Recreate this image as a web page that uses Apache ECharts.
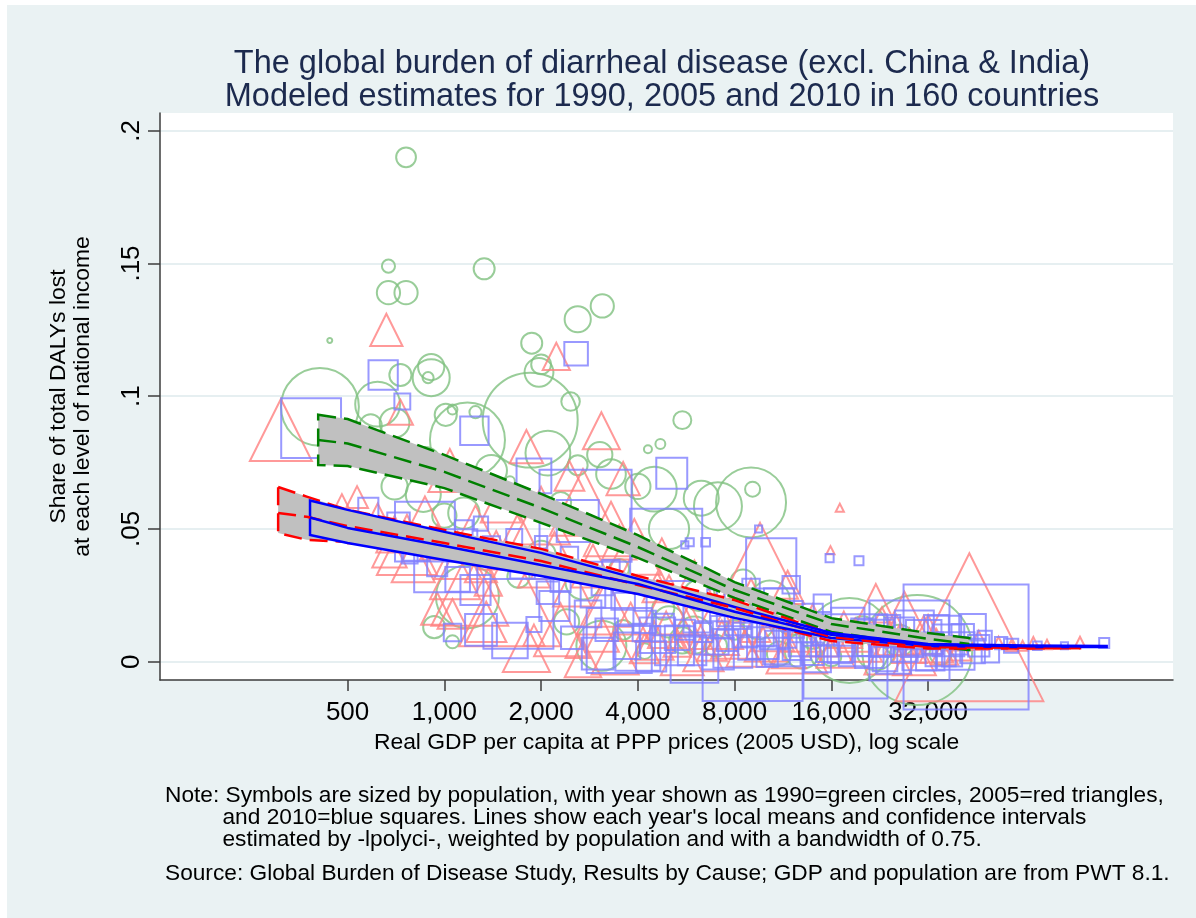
<!DOCTYPE html>
<html>
<head>
<meta charset="utf-8">
<script src="https://cdn.jsdelivr.net/npm/echarts@6/dist/echarts.min.js"></script>
<style>
  html, body { margin: 0; padding: 0; background: #ffffff; }
  #chart { width: 1196px; height: 918px; }
</style>
</head>
<body>
<div id="chart"></div>
<script>
// Axis ticks
const gdpTicks = [500, 1000, 2000, 4000, 8000, 16000, 32000];
const shareTicks = [0, 0.05, 0.1, 0.15, 0.2];

// Countries: [GDP per capita (2005 USD, PPP), share of DALYs lost, population (millions)]
const circles1990 = [
  [760, 0.190, 8], [670, 0.149, 3.5], [1330, 0.148, 9], [670, 0.139, 11], [760, 0.139, 11],
  [2600, 0.129, 14], [3100, 0.134, 11], [1870, 0.120, 9], [440, 0.121, 0.5], [2000, 0.112, 8],
  [1970, 0.109, 17], [910, 0.111, 14], [910, 0.107, 28], [890, 0.107, 2.5], [730, 0.108, 10],
  [2470, 0.098, 7], [410, 0.096, 124], [620, 0.097, 41], [700, 0.090, 18], [590, 0.089, 10],
  [1010, 0.093, 10], [1060, 0.095, 2], [1250, 0.094, 3], [1850, 0.091, 184], [1180, 0.0835, 115],
  [870, 0.075, 20], [2100, 0.0786, 41], [2600, 0.074, 8], [3045, 0.078, 13], [4300, 0.080, 1.3],
  [4700, 0.082, 2], [5500, 0.091, 6.6], [4500, 0.065, 41], [7100, 0.0586, 47], [9000, 0.060, 100],
  [9100, 0.065, 4.6], [6300, 0.0616, 25], [3300, 0.0707, 18], [4000, 0.066, 13], [1400, 0.072, 20],
  [1600, 0.068, 2], [860, 0.063, 25], [1150, 0.056, 20], [1180, 0.0245, 81], [1060, 0.0075, 3.5],
  [930, 0.013, 10], [2400, 0.015, 13], [3080, 0.006, 51], [3600, 0.012, 8], [5500, 0.008, 14],
  [2700, 0.030, 25], [5000, 0.050, 33], [6200, 0.025, 20], [10300, 0.023, 33], [8500, 0.030, 13],
  [12000, 0.016, 20], [18200, 0.008, 147], [29600, 0.0044, 247], [14000, 0.010, 15], [22000, 0.004, 30],
  [26000, 0.008, 20], [35000, 0.003, 10], [8000, 0.012, 8], [7000, 0.006, 10], [4200, 0.004, 5],
  [11000, 0.003, 12], [16000, 0.002, 8], [700, 0.066, 14], [1000, 0.055, 12], [2000, 0.040, 18],
  [1700, 0.032, 10], [3500, 0.035, 8], [2300, 0.060, 9], [5000, 0.015, 20], [6000, 0.010, 28],
  [9500, 0.014, 18], [13000, 0.004, 25], [20000, 0.012, 15], [4800, 0.020, 10]
];

const triangles2005 = [
  [660, 0.125, 14], [2230, 0.115, 10], [730, 0.094, 8.5], [3080, 0.087, 18.5], [310, 0.0873, 52],
  [1800, 0.081, 15], [17000, 0.058, 0.9], [15900, 0.042, 0.9], [43000, 0.013, 296], [95000, 0.0075, 1.35],
  [53000, 0.0075, 1.35], [63000, 0.006, 1.3], [75000, 0.0065, 1.2], [38000, 0.007, 3], [9600, 0.038, 78],
  [27000, 0.016, 41], [535, 0.062, 6.5], [675, 0.042, 16], [765, 0.044, 49], [1040, 0.072, 25],
  [1080, 0.033, 34], [1060, 0.018, 12], [1370, 0.030, 10], [2450, 0.070, 12], [3600, 0.069, 15],
  [2300, 0.012, 38], [4750, 0.044, 2.3], [11700, 0.028, 15], [480, 0.058, 10], [870, 0.055, 20],
  [1250, 0.050, 30], [1500, 0.060, 22], [2000, 0.055, 45], [2700, 0.060, 60], [3300, 0.050, 40],
  [3900, 0.032, 180], [1600, 0.025, 140], [1200, 0.028, 80], [5000, 0.020, 60], [6000, 0.030, 25],
  [7000, 0.015, 40], [8000, 0.010, 30], [9000, 0.024, 20], [10500, 0.012, 25], [12500, 0.007, 50],
  [14000, 0.016, 12], [16500, 0.005, 20], [19000, 0.010, 15], [22000, 0.022, 20], [24000, 0.004, 30],
  [26000, 0.008, 12], [29000, 0.003, 25], [31000, 0.010, 20], [34000, 0.006, 15], [36000, 0.004, 10],
  [4500, 0.008, 20], [3400, 0.004, 30], [5500, 0.003, 25], [6800, 0.006, 12], [2600, 0.006, 8],
  [1900, 0.010, 6],
  [3100, 0.010, 15], [3800, 0.015, 20], [4200, 0.005, 12], [4900, 0.012, 18], [5300, 0.007, 10],
  [5800, 0.016, 14], [6400, 0.004, 22], [7300, 0.009, 16], [7800, 0.020, 10], [8600, 0.005, 18],
  [9300, 0.013, 12], [10000, 0.008, 24], [11000, 0.018, 10], [11800, 0.004, 16], [13000, 0.011, 20],
  [15000, 0.008, 14], [17500, 0.012, 18], [20500, 0.006, 14], [23000, 0.014, 16], [25500, 0.010, 22],
  [28000, 0.006, 16], [32000, 0.012, 12], [40000, 0.005, 8], [46000, 0.008, 5], [58000, 0.006, 1.5],
  [68000, 0.007, 2],
  [560, 0.050, 12], [620, 0.055, 8], [700, 0.048, 18], [800, 0.038, 25], [950, 0.045, 16],
  [1100, 0.040, 30], [1300, 0.036, 14], [1450, 0.042, 20], [1700, 0.048, 25], [1900, 0.034, 14],
  [2200, 0.040, 30], [2500, 0.028, 20], [2900, 0.036, 25], [3200, 0.022, 30], [3500, 0.045, 16],
  [4100, 0.040, 20], [4600, 0.028, 12], [950, 0.020, 14], [1350, 0.015, 22], [1800, 0.005, 30],
  [2700, 0.001, 18]
];

const squares2010 = [
  [645, 0.108, 17], [740, 0.098, 5], [2570, 0.116, 11], [385, 0.088, 71], [1240, 0.087, 16],
  [580, 0.058, 8], [1900, 0.070, 24], [2750, 0.055, 168], [870, 0.049, 71], [1010, 0.038, 79],
  [1700, 0.018, 97], [3500, 0.008, 84], [1060, 0.011, 6], [1900, 0.014, 4.5], [2600, 0.053, 35],
  [5600, 0.044, 1], [2200, 0.021, 18], [5100, 0.071, 19], [4900, 0.044, 103], [10400, 0.037, 50],
  [15000, 0.022, 6], [19500, 0.038, 1.6], [9500, 0.050, 1], [5800, 0.045, 1.3], [6500, 0.045, 1.5],
  [42000, 0.0055, 310], [28000, 0.008, 127], [113000, 0.007, 2], [58000, 0.006, 4], [17700, 0.002, 140],
  [9100, 0.004, 198], [15800, 0.039, 1.3], [13000, 0.012, 12], [780, 0.040, 5], [900, 0.045, 3],
  [1150, 0.050, 6], [1300, 0.052, 4], [1500, 0.040, 9], [1650, 0.047, 5], [2000, 0.045, 3],
  [2300, 0.030, 8], [2900, 0.025, 12], [3300, 0.035, 6], [3800, 0.020, 20], [4200, 0.015, 10],
  [4600, 0.010, 25], [5200, 0.006, 30], [5600, 0.012, 8], [6100, 0.016, 14], [6800, 0.009, 22],
  [7300, 0.013, 10], [7900, 0.005, 30], [8600, 0.010, 12], [9800, 0.007, 20], [10800, 0.004, 14],
  [11600, 0.009, 8], [12500, 0.006, 16], [14000, 0.003, 10], [15500, 0.006, 9], [17000, 0.004, 12],
  [19000, 0.008, 20], [21000, 0.003, 16], [23000, 0.006, 10], [25000, 0.002, 24], [27000, 0.005, 14],
  [30000, 0.003, 22], [33000, 0.007, 9], [35000, 0.004, 18], [38000, 0.002, 8], [40000, 0.006, 6],
  [44000, 0.004, 12], [48000, 0.009, 4], [4000, 0.005, 40], [3000, 0.003, 20], [2500, 0.009, 10],
  [6000, 0.001, 45], [7000, 0.024, 6], [8000, 0.020, 25], [9000, 0.028, 6], [11000, 0.022, 18],
  [12000, 0.029, 6], [14000, 0.018, 8], [18000, 0.014, 22], [24000, 0.013, 12], [29000, 0.012, 30],
  [36000, 0.011, 22], [44000, 0.013, 14],
  [3200, 0.012, 10], [3700, 0.006, 14], [4100, 0.011, 6], [4400, 0.002, 18], [4800, 0.014, 9],
  [5300, 0.009, 12], [5900, 0.004, 16], [6400, 0.011, 7], [7100, 0.003, 20], [7600, 0.008, 9],
  [8200, 0.015, 14], [8900, 0.005, 10], [9400, 0.012, 22], [10100, 0.002, 9], [10600, 0.010, 16],
  [11300, 0.005, 25], [12200, 0.013, 9], [13200, 0.008, 20], [14500, 0.001, 14], [15200, 0.011, 12],
  [16400, 0.007, 28], [17600, 0.010, 9], [18800, 0.004, 18], [20000, 0.012, 10], [22000, 0.009, 26],
  [23500, 0.001, 12], [26000, 0.011, 18], [28500, 0.006, 10], [31000, 0.009, 25], [32500, 0.002, 16],
  [34000, 0.013, 12], [37000, 0.008, 20], [39000, 0.004, 28], [41000, 0.010, 10], [46000, 0.006, 9],
  [50000, 0.003, 6], [54000, 0.007, 3], [70000, 0.006, 1.5], [85000, 0.006, 1],
  [650, 0.050, 4], [720, 0.052, 10], [820, 0.043, 14], [950, 0.036, 8], [1100, 0.031, 12],
  [1250, 0.027, 18], [1400, 0.044, 6], [1750, 0.036, 12], [2100, 0.026, 10], [2450, 0.040, 6],
  [2800, 0.018, 14], [3100, 0.029, 9], [3600, 0.024, 11], [1300, 0.012, 20], [1600, 0.008, 25]
];

// Local means with confidence limits, per year
const fitGdp1990 = [405, 500, 1000, 2000, 4000, 8000, 16000, 32000, 43000];
const fitHi1990 = [0.0930, 0.0914, 0.0779, 0.0632, 0.0477, 0.0300, 0.0164, 0.0108, 0.0089];
const fitMean1990 = [0.0835, 0.0822, 0.0715, 0.0579, 0.0432, 0.0270, 0.0142, 0.0086, 0.0067];
const fitLo1990 = [0.0741, 0.0737, 0.0654, 0.0523, 0.0391, 0.0240, 0.0112, 0.0059, 0.0044];

const fitGdp2005 = [304, 373, 500, 1000, 2000, 4000, 8000, 16000, 32000, 64000, 95000];
const fitHi2005 = [0.0658, 0.0622, 0.0572, 0.0496, 0.0425, 0.0323, 0.0232, 0.0104, 0.0059, 0.0054, 0.0052];
const fitMean2005 = [0.0560, 0.0546, 0.0511, 0.0447, 0.0379, 0.0289, 0.0202, 0.0093, 0.0055, 0.0052, 0.0052];
const fitLo2005 = [0.0485, 0.0459, 0.0451, 0.0398, 0.0334, 0.0255, 0.0172, 0.0078, 0.0050, 0.0050, 0.0051];

const fitGdp2010 = [382, 500, 1000, 2000, 4000, 8000, 16000, 32000, 64000, 115000];
const fitHi2010 = [0.0607, 0.0572, 0.0489, 0.0410, 0.0312, 0.0206, 0.0108, 0.0067, 0.0061, 0.0059];
const fitMean2010 = [0.0543, 0.0504, 0.0436, 0.0364, 0.0293, 0.0188, 0.0101, 0.0063, 0.0058, 0.0057];
const fitLo2010 = [0.0477, 0.0447, 0.0383, 0.0323, 0.0255, 0.0165, 0.0089, 0.0059, 0.0055, 0.0055];

// ---- drawing ----
const FONT = "'Liberation Sans', Arial, Helvetica, sans-serif";
const log2 = v => Math.log(v) / Math.LN2;
const X_MIN = log2(130.4), X_MAX = log2(184970);
const Y_MIN = -0.0069, Y_MAX = 0.2067;

const GREEN = '#008000', RED = '#ff0000', BLUE = '#0000ff';
const BAND = '#c0c0c0';
const DASH = [18, 8];

function scatter(rows, symbol, color, scale) {
  return {
    type: 'scatter', symbol: symbol, z: 2, silent: true,
    data: rows.map(r => [log2(r[0]), r[1], r[2]]),
    symbolSize: v => scale * Math.sqrt(v[2]),
    itemStyle: { color: 'rgba(0,0,0,0)', borderColor: color, borderWidth: 2 }
  };
}

// Confidence band: filled polygon outlined in the year's colour
function band(gdp, lo, hi, color, dashed, z) {
  return {
    type: 'custom', coordinateSystem: 'cartesian2d', silent: true, z: z,
    data: [[log2(gdp[0]), lo[0]]],
    encode: { x: 0, y: 1 },
    renderItem: (params, api) => {
      const upper = gdp.map((g, i) => api.coord([log2(g), hi[i]]));
      const lower = gdp.map((g, i) => api.coord([log2(g), lo[i]])).reverse();
      return {
        type: 'polygon',
        shape: { points: upper.concat(lower) },
        style: { fill: BAND, stroke: color, lineWidth: 2.5, lineDash: dashed ? DASH : null }
      };
    }
  };
}

function fitLine(gdp, vals, color, dashed) {
  return {
    type: 'line', symbol: 'none', smooth: false, silent: true, z: 8,
    data: gdp.map((g, i) => [log2(g), vals[i]]),
    lineStyle: { color: color, width: 2.5, type: dashed ? DASH : 'solid' }
  };
}

const series = [
  scatter(circles1990, 'circle', '#80c080', 7.0),
  scatter(triangles2005, 'triangle', '#ff8080', 8.6),
  scatter(squares2010, 'rect', '#8080ff', 7.1),
  band(fitGdp1990, fitLo1990, fitHi1990, GREEN, true, 5),
  band(fitGdp2005, fitLo2005, fitHi2005, RED, true, 6),
  band(fitGdp2010, fitLo2010, fitHi2010, BLUE, false, 7),
  fitLine(fitGdp1990, fitMean1990, GREEN, true),
  fitLine(fitGdp2005, fitMean2005, RED, true),
  fitLine(fitGdp2010, fitMean2010, BLUE, false)
];

const chart = echarts.init(document.getElementById('chart'), null, { renderer: 'canvas' });
chart.setOption({
  animation: false,
  backgroundColor: '#eaf2f3',
  textStyle: { fontFamily: FONT },
  grid: {
    left: 160, right: 23, top: 113, bottom: 238,
    show: true, backgroundColor: '#ffffff', borderWidth: 0
  },
  xAxis: {
    type: 'value', min: X_MIN, max: X_MAX,
    name: 'Real GDP per capita at PPP prices (2005 USD), log scale',
    nameLocation: 'middle', nameGap: 45,
    nameTextStyle: { fontSize: 22.9, color: '#000', fontFamily: FONT },
    axisLine: { show: true, onZero: false, lineStyle: { color: '#3c3c3c', width: 1.5 } },
    axisTick: { show: true, length: 11, lineStyle: { color: '#3c3c3c', width: 1.5 },
                customValues: gdpTicks.map(log2) },
    axisLabel: {
      customValues: gdpTicks.map(log2), margin: 20,
      fontSize: 26, color: '#000', fontFamily: FONT,
      formatter: v => Math.round(Math.pow(2, v)).toLocaleString('en-US')
    },
    splitLine: { show: false }
  },
  yAxis: {
    type: 'value', min: Y_MIN, max: Y_MAX,
    name: 'Share of total DALYs lost\nat each level of national income',
    nameLocation: 'middle', nameGap: 66, nameRotate: 90,
    nameTextStyle: { fontSize: 22.9, lineHeight: 23.3, color: '#000', fontFamily: FONT },
    axisLine: { show: true, onZero: false, lineStyle: { color: '#3c3c3c', width: 1.5 } },
    axisTick: { show: true, length: 12, lineStyle: { color: '#3c3c3c', width: 1.5 },
                customValues: shareTicks },
    axisLabel: {
      customValues: shareTicks, rotate: 90, margin: 15,
      fontSize: 26, color: '#000', fontFamily: FONT,
      formatter: v => (v === 0 ? '0' : String(+v.toFixed(2)).replace(/^0\./, '.'))
    },
    splitLine: { show: true, lineStyle: { color: '#e6eff1', width: 2 } }
  },
  graphic: [
    { type: 'rect', left: 0, top: 0, shape: { width: 1196, height: 5 }, style: { fill: '#ffffff' }, silent: true },
    { type: 'rect', left: 0, top: 0, shape: { width: 7, height: 918 }, style: { fill: '#ffffff' }, silent: true },
    {
      type: 'text', x: 662, y: 48, silent: true,
      style: {
        text: 'The global burden of diarrheal disease (excl. China & India)\nModeled estimates for 1990, 2005 and 2010 in 160 countries',
        font: '32.5px ' + FONT, fill: '#1c2a4e', align: 'center', verticalAlign: 'top', lineHeight: 32.5
      }
    },
    {
      type: 'text', x: 165, y: 796, silent: true,
      style: { text: 'Note: Symbols are sized by population, with year shown as 1990=green circles, 2005=red triangles,',
               font: '22.7px ' + FONT, fill: '#000', verticalAlign: 'middle' }
    },
    {
      type: 'text', x: 222.5, y: 817.5, silent: true,
      style: { text: "and 2010=blue squares. Lines show each year's local means and confidence intervals",
               font: '22.7px ' + FONT, fill: '#000', verticalAlign: 'middle' }
    },
    {
      type: 'text', x: 222.5, y: 839.5, silent: true,
      style: { text: 'estimated by -lpolyci-, weighted by population and with a bandwidth of 0.75.',
               font: '22.7px ' + FONT, fill: '#000', verticalAlign: 'middle' }
    },
    {
      type: 'text', x: 165, y: 874, silent: true,
      style: { text: 'Source: Global Burden of Disease Study, Results by Cause; GDP and population are from PWT 8.1.',
               font: '22.7px ' + FONT, fill: '#000', verticalAlign: 'middle' }
    }
  ],
  series: series
});
</script>
</body>
</html>
